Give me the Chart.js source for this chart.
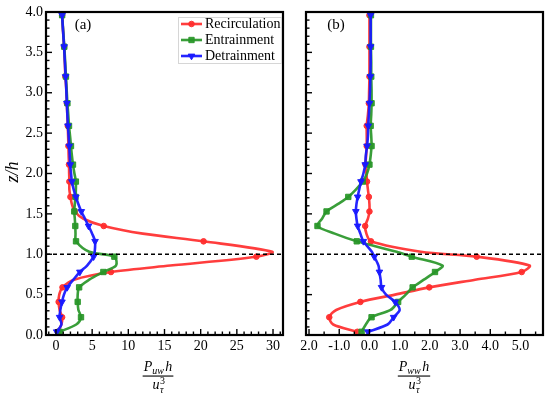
<!DOCTYPE html>
<html><head><meta charset="utf-8">
<script src="https://cdn.jsdelivr.net/npm/chart.js@4.4.1/dist/chart.umd.min.js"></script>
<style>
html,body{margin:0;padding:0;background:#fff;width:550px;height:396px;overflow:hidden}
#ca{position:absolute;left:0;top:0}
#cb{position:absolute;left:290px;top:0}
</style></head><body>
<canvas id="ca" width="290" height="396"></canvas>
<canvas id="cb" width="260" height="396"></canvas>
<script>
// ---------------- data ----------------
const zLevels = [0.04,0.13,0.22,0.31,0.41,0.50,0.59,0.685,0.78,0.86,0.97,1.03,1.16,1.255,1.35,1.44,1.53,1.62,1.71,1.80,1.90,2.00,2.11,2.22,2.34,2.46,2.59,2.73,2.87,3.03,3.20,3.38,3.57,3.76,3.96];

const recircA  = [0.25,0.75,0.85,0.5,0.37,0.45,0.9,2.5,7.6,15.8,27.7,29.9,20.4,12.0,6.6,3.8,2.6,2.2,2.0,1.85,1.85,1.82,1.8,1.75,1.72,1.68,1.63,1.57,1.5,1.44,1.3,1.22,1.12,0.98,0.85];
const entrainA = [0.5,2.8,3.46,3.1,3.0,3.0,3.2,4.6,6.55,8.3,8.07,4.6,2.77,2.7,2.67,2.6,2.53,2.6,2.7,2.75,2.75,2.55,2.35,2.2,2.07,1.95,1.8,1.7,1.58,1.48,1.38,1.27,1.15,1.0,0.85];
const detrainA = [0.1,0.75,0.5,0.6,0.83,1.1,1.55,2.4,3.3,4.3,5.2,5.35,5.4,5.0,4.5,4.0,3.5,3.1,2.75,2.45,2.2,2.08,1.97,1.9,1.83,1.75,1.65,1.57,1.5,1.43,1.33,1.23,1.12,0.98,0.85];

const recircB  = [-0.4,-1.2,-1.33,-1.1,-0.3,0.85,1.98,3.5,5.04,5.3,3.55,1.7,0.05,-0.1,-0.14,-0.05,0.0,0.0,-0.02,-0.05,-0.08,-0.1,-0.13,-0.11,-0.09,-0.09,-0.09,-0.05,-0.02,-0.01,0.0,0.0,0.0,0.0,0.0];
const entrainB = [-0.26,-0.12,0.07,0.7,0.95,1.2,1.43,1.8,2.17,2.42,1.4,0.9,-0.42,-1.15,-1.72,-1.57,-1.42,-1.05,-0.70,-0.45,-0.22,-0.08,0.0,0.04,0.07,0.06,0.04,0.06,0.07,0.07,0.06,0.06,0.05,0.05,0.05];
const detrainB = [-0.05,0.6,0.8,1.0,0.85,0.55,0.4,0.37,0.33,0.3,0.16,0.08,-0.2,-0.3,-0.39,-0.43,-0.45,-0.43,-0.39,-0.34,-0.28,-0.2,-0.14,-0.12,-0.08,-0.05,-0.04,-0.02,0.0,0.02,0.03,0.04,0.04,0.04,0.04];

const seriesNames = ['Recirculation','Entrainment','Detrainment'];
const yTicks = [0,0.5,1.0,1.5,2.0,2.5,3.0,3.5,4.0];
const xTicksA = [0,5,10,15,20,25,30];
const xTickLabelsA = ['0','5','10','15','20','25','30'];
const xTicksB = [-2,-1,0,1,2,3,4,5];
const xTickLabelsB = ['2.0','-1.0','0.0','1.0','2.0','3.0','4.0','5.0'];
const refLineZ = 1.0;

// ---------------- styles ----------------
const colors = ['rgba(255,45,45,0.92)','rgba(40,150,40,0.92)','rgba(25,25,255,0.95)'];
const pStyles = [
  {pointStyle:'circle', radius:2.8, rotation:0},
  {pointStyle:'rect', radius:3.8, rotation:0},
  {pointStyle:'triangle', radius:3.8, rotation:180}
];
const SERIF = '"Liberation Serif", "Times New Roman", serif';

function mkDatasets(arrs){
  return arrs.map((vals,i)=>({
    label: seriesNames[i],
    data: zLevels.map((z,k)=>({x: vals[k], y: z})),
    showLine: true,
    borderColor: colors[i],
    backgroundColor: colors[i],
    borderWidth: 2.6,
    tension: 0.3,
    pointStyle: pStyles[i].pointStyle,
    pointRotation: pStyles[i].rotation,
    pointBorderWidth: 1,
    pointRadius: ctx => (ctx.dataIndex % 2 === 0 ? pStyles[i].radius : 0),
    pointHoverRadius: 0,
    order: 3 - i
  }));
}

function drawMarker(ctx, i, x, y){
  const s = pStyles[i];
  ctx.fillStyle = colors[i]; ctx.strokeStyle = colors[i]; ctx.lineWidth = 1;
  ctx.beginPath();
  if (s.pointStyle === 'circle') { ctx.arc(x, y, s.radius, 0, Math.PI*2); }
  else if (s.pointStyle === 'rect') { const h = s.radius*Math.SQRT1_2; ctx.rect(x-h, y-h, 2*h, 2*h); }
  else { const r = s.radius; ctx.moveTo(x, y + r); ctx.lineTo(x - r*0.866, y - r*0.5); ctx.lineTo(x + r*0.866, y - r*0.5); ctx.closePath(); }
  ctx.fill(); ctx.stroke();
}

function drawFraction(ctx, cx, sub){
  const main = 'italic 14px ' + SERIF, small = 'italic 10px ' + SERIF, smallUp = '10px ' + SERIF;
  ctx.fillStyle = '#000'; ctx.textAlign = 'left'; ctx.textBaseline = 'alphabetic';
  ctx.font = main; const wP = ctx.measureText('P').width, wH = ctx.measureText('h').width, wU = ctx.measureText('u').width;
  ctx.font = small; const wS = ctx.measureText(sub).width;
  const wT = ctx.measureText('τ').width;
  const numW = wP + wS + 1.5 + wH;
  let x0 = cx - numW/2;
  ctx.font = main; ctx.fillText('P', x0, 371);
  ctx.font = small; ctx.fillText(sub, x0 + wP, 374);
  ctx.font = main; ctx.fillText('h', x0 + wP + wS + 1.5, 371);
  ctx.fillRect(cx - numW/2 - 1, 375.5, numW + 2, 1.1);
  const denW = wU + wT + 0.5;
  x0 = cx - denW/2;
  ctx.font = main; ctx.fillText('u', x0, 389);
  ctx.font = smallUp; ctx.fillText('3', x0 + wU + 0.5, 383.5);
  ctx.font = small; ctx.fillText('τ', x0 + wU + 0.5, 393);
}

function decor(opt){
  return {
    id: 'decor_' + opt.name,
    afterDatasetsDraw(chart){
      const {ctx, chartArea: a, scales: {x, y}} = chart;
      ctx.save();
      // dashed reference line
      const py = y.getPixelForValue(refLineZ);
      ctx.strokeStyle = '#000'; ctx.lineWidth = 1.3; ctx.setLineDash([4,3]);
      ctx.beginPath(); ctx.moveTo(a.left, py); ctx.lineTo(a.right, py); ctx.stroke();
      ctx.setLineDash([]);
      // inward ticks: y
      ctx.lineWidth = 1.4;
      for (let k = 0; k <= 40; k++){
        const p = y.getPixelForValue(k*0.1);
        const len = (k % 5 === 0) ? 6 : 3.5;
        ctx.beginPath(); ctx.moveTo(a.left, p); ctx.lineTo(a.left + len, p); ctx.stroke();
      }
      // inward ticks: x
      for (let k = opt.xk0; k <= opt.xk1; k++){
        const v = k*opt.xStep;
        if (v < x.min || v > x.max) continue;
        const p = x.getPixelForValue(v);
        const len = (k % opt.majorEvery === 0) ? 6 : 3.5;
        ctx.beginPath(); ctx.moveTo(p, a.bottom); ctx.lineTo(p, a.bottom - len); ctx.stroke();
      }
      // frame
      ctx.lineWidth = 2.2;
      ctx.strokeRect(a.left, a.top, a.right - a.left, a.bottom - a.top);
      // panel label
      ctx.fillStyle = '#000'; ctx.font = '15px ' + SERIF; ctx.textAlign = 'center'; ctx.textBaseline = 'middle';
      ctx.fillText(opt.panel, opt.panelX, 25);
      // x-axis title
      drawFraction(ctx, opt.fracX, opt.sub);
      if (opt.legend){
        ctx.strokeStyle = '#d6d6d6'; ctx.lineWidth = 1;
        ctx.strokeRect(178.5, 17.5, 103, 46);
        for (let i = 0; i < 3; i++){
          const ly = 24 + 16*i;
          ctx.strokeStyle = colors[i]; ctx.lineWidth = 2.6;
          ctx.beginPath(); ctx.moveTo(181, ly); ctx.lineTo(202, ly); ctx.stroke();
          drawMarker(ctx, i, 191.5, ly);
          ctx.fillStyle = '#000'; ctx.font = '14px ' + SERIF; ctx.textAlign = 'left'; ctx.textBaseline = 'middle';
          ctx.fillText(seriesNames[i], 205, ly + 0.5);
        }
      }
      if (opt.yTitle){
        ctx.save();
        ctx.translate(13, 172); ctx.rotate(-Math.PI/2);
        ctx.fillStyle = '#000'; ctx.font = 'italic 18px ' + SERIF; ctx.textAlign = 'center'; ctx.textBaseline = 'middle';
        ctx.fillText('z/h', 0, 0);
        ctx.restore();
      }
      ctx.restore();
    }
  };
}

function makeChart(id, arrs, xMin, xMax, xTicks, xLabels, yWidth, showY, opt){
  return new Chart(document.getElementById(id), {
    type: 'scatter',
    data: {datasets: mkDatasets(arrs)},
    options: {
      responsive: false, animation: false, devicePixelRatio: 1,
      layout: {padding: {top: 12, right: 7, left: 0, bottom: 0}},
      plugins: {legend: {display: false}, tooltip: {enabled: false}},
      scales: {
        x: {
          type: 'linear', min: xMin, max: xMax,
          grid: {display: false, drawTicks: false}, border: {display: false},
          afterBuildTicks: s => { s.ticks = xTicks.map(v => ({value: v})); },
          ticks: {font: {family: SERIF, size: 14}, color: '#000', padding: 3, maxRotation: 0, autoSkip: false,
                  callback: (v, i) => xLabels[i]},
          afterFit: s => { s.height = 61; }
        },
        y: {
          type: 'linear', min: 0, max: 4,
          grid: {display: false, drawTicks: false}, border: {display: false},
          afterBuildTicks: s => { s.ticks = yTicks.map(v => ({value: v})); },
          ticks: {display: showY, font: {family: SERIF, size: 14}, color: '#000', padding: 3, autoSkip: false,
                  callback: v => Number(v).toFixed(1)},
          afterFit: s => { s.width = yWidth; }
        }
      }
    },
    plugins: [decor(opt)]
  });
}

makeChart('ca', [recircA, entrainA, detrainA], -1.38, 31.38, xTicksA, xTickLabelsA, 46, true,
  {name: 'a', panel: '(a)', panelX: 83, fracX: 158, sub: 'uw', xStep: 1, xk0: -1, xk1: 31, majorEvery: 5, legend: true, yTitle: true});
makeChart('cb', [recircB, entrainB, detrainB], -2.10, 5.745, xTicksB, xTickLabelsB, 16, false,
  {name: 'b', panel: '(b)', panelX: 46, fracX: 124, sub: 'ww', xStep: 0.5, xk0: -4, xk1: 11, majorEvery: 2, legend: false, yTitle: false});
</script>
</body></html>
